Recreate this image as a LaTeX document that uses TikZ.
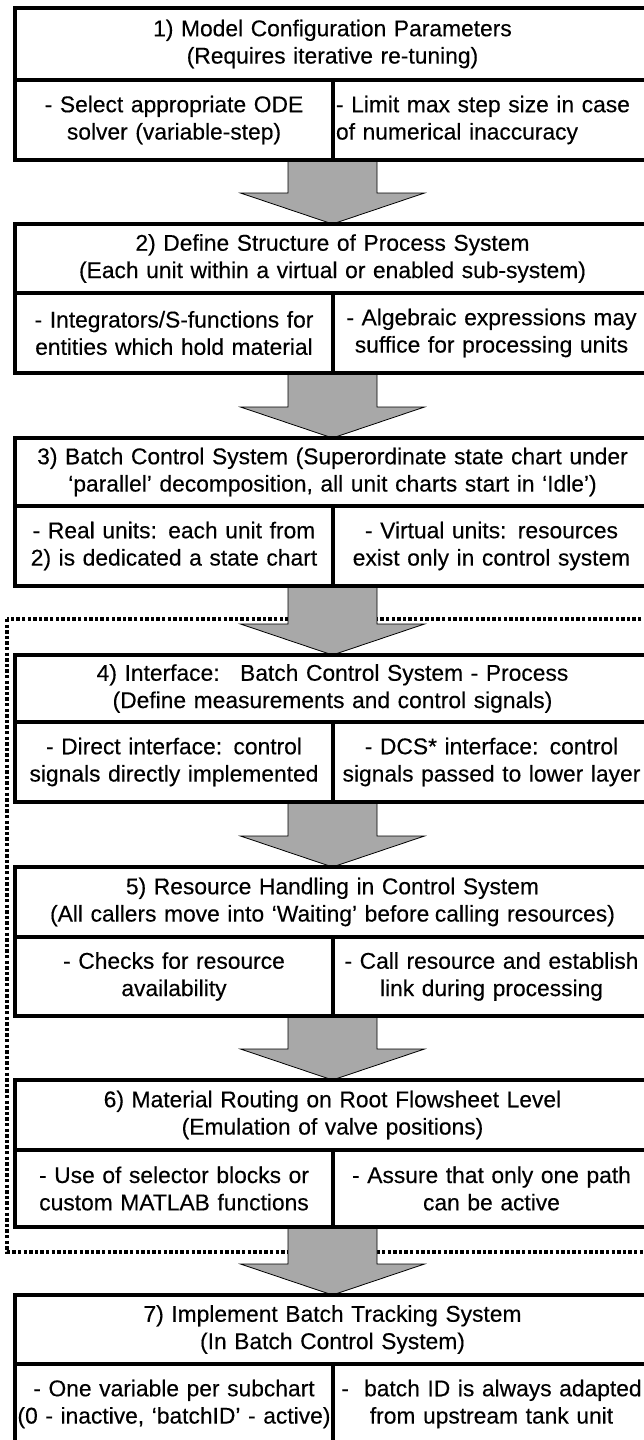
\documentclass[tikz,border=0pt]{standalone}
\usepackage{fontspec}
\setmainfont{Liberation Sans}[FakeBold=0.3]
\usetikzlibrary{calc,backgrounds}
\newcommand{\mkc}[1]{\makebox[\linewidth][c]{#1}}
\newcommand{\mkl}[1]{\makebox[\linewidth][l]{#1}}
\tikzset{
  cellbox/.style={draw, line width=3.2pt, anchor=north west, inner xsep=3pt, inner ysep=0pt, outer sep=0pt,
    font=\fontsize{22.8}{27.3}\selectfont, align=center},
  titlebox/.style={cellbox, text width=629pt},
  leftbox/.style={cellbox, text width=312pt},
  rightbox/.style={cellbox, text width=311pt},
  blockarrow/.style={fill=black!34, draw=black, line width=0.8pt, line join=miter},
  groupframe/.style={draw, line width=3.5pt, dash pattern=on 3.4pt off 2.2pt}
}
\begin{document}
\begin{tikzpicture}[x=1pt,y={(0pt,-1pt)}]
\useasboundingbox (0,0) rectangle (644,1440);
\clip (0,0) rectangle (644,1440);

% Box 1
\node[titlebox, minimum height=72pt] (t1) at (15,8) {\mkc{1) Model Configuration Parameters}\\\mkc{(Requires iterative re-tuning)}};
\node[leftbox, minimum height=80pt] (l1) at (15,80) {\mkc{- Select appropriate ODE}\\\mkc{solver (variable-step)}};
\node[rightbox, minimum height=80pt] (r1) at (333,80) {\mkl{- Limit max step size in case}\\\mkl{of numerical inaccuracy}};
% Box 2
\node[titlebox, minimum height=69pt] (t2) at (15,224) {\mkc{2) Define Structure of Process System}\\\mkc{(Each unit within a virtual or enabled sub-system)}};
\node[leftbox, minimum height=80pt] (l2) at (15,293) {\mkc{- Integrators/S-functions for}\\\mkc{entities which hold material}};
\node[rightbox, minimum height=80pt] (r2) at (333,293) {\mkc{- Algebraic expressions may}\\\mkc{suffice for processing units}};
% Box 3
\node[titlebox, minimum height=68pt] (t3) at (15,438) {\mkc{3) Batch Control System (Superordinate state chart under}\\\mkc{‘parallel’ decomposition, all unit charts start in ‘Idle’)}};
\node[leftbox, minimum height=80pt] (l3) at (15,506) {\mkc{- Real units: each unit from}\\\mkc{2) is dedicated a state chart}};
\node[rightbox, minimum height=80pt] (r3) at (333,506) {\mkc{- Virtual units: resources}\\\mkc{exist only in control system}};
% Box 4
\node[titlebox, minimum height=67pt] (t4) at (15,655) {\mkc{4) Interface:\hspace{0.9em}Batch Control System - Process}\\\mkc{(Define measurements and control signals)}};
\node[leftbox, minimum height=80pt] (l4) at (15,722) {\mkc{- Direct interface: control}\\\mkc{signals directly implemented}};
\node[rightbox, minimum height=80pt] (r4) at (333,722) {\mkc{- DCS* interface: control}\\\mkc{signals passed to lower layer}};
% Box 5
\node[titlebox, minimum height=70pt] (t5) at (15,867) {\mkc{5) Resource Handling in Control System}\\\mkc{(All callers move into ‘Waiting’ before\hspace{-2pt} calling resources)}};
\node[leftbox, minimum height=79pt] (l5) at (15,937) {\mkc{- Checks for resource}\\\mkc{availability}};
\node[rightbox, minimum height=79pt] (r5) at (333,937) {\mkc{- Call resource and establish}\\\mkc{link during processing}};
% Box 6
\node[titlebox, minimum height=70pt] (t6) at (15,1080) {\mkc{6) Material Routing on Root Flowsheet Level}\\\mkc{(Emulation of valve positions)}};
\node[leftbox, minimum height=77pt] (l6) at (15,1150) {\mkc{- Use of selector blocks or}\\\mkc{custom MATLAB functions}};
\node[rightbox, minimum height=77pt] (r6) at (333,1150) {\mkc{- Assure that only one path}\\\mkc{can be active}};
% Box 7
\node[titlebox, minimum height=69pt] (t7) at (15,1295) {\mkc{7) Implement Batch Tracking System}\\\mkc{(In Batch Control System)}};
\node[leftbox, minimum height=80pt] (l7) at (15,1364) {\mkc{- One variable per subchart}\\\mkc{(0 - inactive, ‘batchID’ - active)}};
\node[rightbox, minimum height=80pt] (r7) at (333,1364) {\mkc{-\ \ batch ID is always adapted}\\\mkc{from upstream tank unit}};

\begin{pgfonlayer}{background}
  \fill[white] (0,0) rectangle (644,1440);
  \coordinate (gtl) at (7,619);
  \coordinate (gbr) at (660,1252);
  \draw[groupframe] (gtl) rectangle (gbr);
  \foreach \a/\b in {l1/t2, l2/t3, l3/t4, l4/t5, l5/t6, l6/t7}{
    \draw[blockarrow] let \p1=(\a.south), \p2=(\b.north) in
      (\x2-44.5pt,\y1) -- (\x2-44.5pt,\y2+31pt) -- (\x2-92pt,\y2+31pt) --
      (\x2,\y2) --
      (\x2+92pt,\y2+31pt) -- (\x2+44.5pt,\y2+31pt) -- (\x2+44.5pt,\y1) -- cycle;
  }
\end{pgfonlayer}
\end{tikzpicture}
\end{document}
